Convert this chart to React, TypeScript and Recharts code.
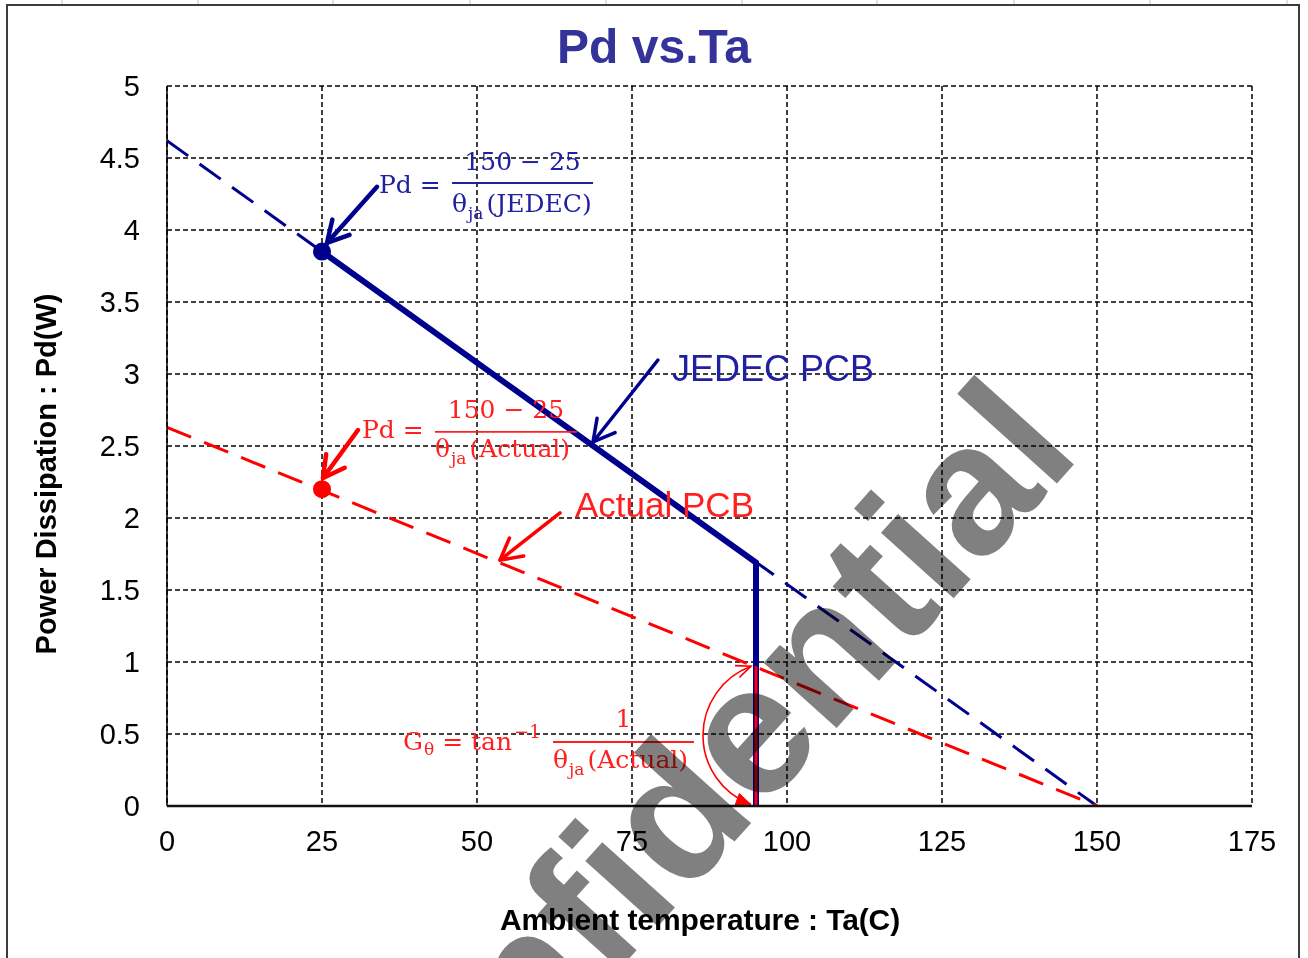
import React from "react";
import {
  ComposedChart,
  Line,
  Scatter,
  XAxis,
  YAxis,
  CartesianGrid,
  ReferenceLine,
  ReferenceDot,
} from "recharts";

// axis ticks
const xTicks = [0, 25, 50, 75, 100, 125, 150, 175];
const yTicks = [0, 0.5, 1, 1.5, 2, 2.5, 3, 3.5, 4, 4.5, 5];

// series (Ta in C, Pd in W)
const jedecDerating = [
  { x: 0, y: 4.62 },
  { x: 150, y: 0 },
];
const actualDerating = [
  { x: 0, y: 2.63 },
  { x: 150, y: 0 },
];
const jedecOperating = [
  { x: 25, y: 3.85 },
  { x: 95, y: 1.69 },
  { x: 95, y: 0 },
];
const actualLimit = [
  { x: 95, y: 0 },
  { x: 95, y: 0.97 },
];
const jedecPoint = [{ x: 25, y: 3.85 }];
const actualPoint = [{ x: 25, y: 2.2 }];

// annotation anchors (data coords)
const jedecFormulaAt = { x: 34.2, y: 4.257 };
const actualFormulaAt = { x: 31.45, y: 2.556 };
const slopeFormulaAt = { x: 38.06, y: 0.389 };
const jedecLabelAt = { x: 81.45, y: 2.951 };
const actualLabelAt = { x: 65.81, y: 2.007 };
const jedecFormulaArrow = [{ x: 33.87, y: 4.3 }, { x: 25.8, y: 3.91 }];
const actualFormulaArrow = [{ x: 30.81, y: 2.611 }, { x: 25.16, y: 2.278 }];
const jedecLabelArrow = [{ x: 79.19, y: 3.097 }, { x: 68.71, y: 2.528 }];
const actualLabelArrow = [{ x: 63.39, y: 2.035 }, { x: 53.71, y: 1.708 }];
const angleArc = [{ x: 95, y: 0.01 }, { x: 95, y: 0.97 }];

const W = 1308;
const H = 958;
const SANS = "'Liberation Sans', Arial, sans-serif";
const SERIF = "'DejaVu Serif', 'Liberation Serif', serif";
const NAVY = "#00008f";
const BLUE_TEXT = "#2020a2";
const RED = "#ff0000";
const RED_TEXT = "#ff1f1f";

const arrow =
  (color: string, width: number, head = 20) =>
  (p: any) => {
    const { x1, y1, x2, y2 } = p;
    const a = Math.atan2(y2 - y1, x2 - x1);
    const s = 0.5;
    const h1x = x2 - head * Math.cos(a - s);
    const h1y = y2 - head * Math.sin(a - s);
    const h2x = x2 - head * Math.cos(a + s);
    const h2y = y2 - head * Math.sin(a + s);
    return (
      <g stroke={color} strokeWidth={width} fill="none" strokeLinecap="round" strokeLinejoin="round">
        <line x1={x1} y1={y1} x2={x2} y2={y2} />
        <polyline points={`${h1x},${h1y} ${x2},${y2} ${h2x},${h2y}`} />
      </g>
    );
  };

// angle marker: short arc bulging left of the vertical limit line
const arcShape = (p: any) => {
  const { x1, y1, x2, y2 } = p;
  const bx = x1 - 5;
  const tx = x2 - 5;
  const bulge = 48;
  const half = Math.abs(y1 - y2) / 2;
  const r = (half * half + bulge * bulge) / (2 * bulge);
  const cx = tx + (r - bulge);
  const cy = (y1 + y2) / 2;
  const head = (ex: number, ey: number, dx: number, dy: number, fill: boolean) => {
    const a = Math.atan2(dy, dx);
    const L = 16;
    const pts = `${ex - L * Math.cos(a - 0.4)},${ey - L * Math.sin(a - 0.4)} ${ex},${ey} ${
      ex - L * Math.cos(a + 0.4)
    },${ey - L * Math.sin(a + 0.4)}`;
    return fill ? (
      <polygon points={pts} fill={RED} stroke={RED} strokeWidth={1} />
    ) : (
      <polyline points={pts} fill="none" stroke={RED} strokeWidth={1.6} />
    );
  };
  const rtx = tx - cx, rty = y2 - cy;
  const rbx = bx - cx, rby = y1 - cy;
  return (
    <g>
      <path
        d={`M ${tx} ${y2} A ${r} ${r} 0 0 0 ${bx} ${y1}`}
        fill="none"
        stroke={RED}
        strokeWidth={1.6}
      />
      {head(tx, y2, -rty, rtx, false)}
      {head(bx, y1, rby, -rbx, true)}
    </g>
  );
};

function Fraction(props: {
  x: number;
  y: number;
  color: string;
  lhs: React.ReactNode;
  barFrom: number;
  barTo: number;
  barDy: number;
  num: string;
  numDy: number;
  den: string;
  denDy: number;
}) {
  const { x, y, color } = props;
  return (
    <g fill={color} fontFamily={SERIF} fontSize={25}>
      <text x={x} y={y}>{props.lhs}</text>
      <line
        x1={x + props.barFrom}
        x2={x + props.barTo}
        y1={y + props.barDy}
        y2={y + props.barDy}
        stroke={color}
        strokeWidth={1.8}
      />
      <text x={x + (props.barFrom + props.barTo) / 2} y={y + props.numDy} textAnchor="middle">
        {props.num}
      </text>
      <text x={x + props.barFrom} y={y + props.denDy}>
        θ
        <tspan fontSize={17} dx={1} dy={7}>
          ja
        </tspan>
        <tspan dx={3} dy={-7}>
          {props.den}
        </tspan>
      </text>
    </g>
  );
}

const jedecFormula = (p: any) => (
  <Fraction
    x={p.cx}
    y={p.cy}
    color={BLUE_TEXT}
    lhs="Pd ="
    barFrom={73}
    barTo={214}
    barDy={-10}
    num="150 − 25"
    numDy={-23}
    den="(JEDEC)"
    denDy={19}
  />
);

const actualFormula = (p: any) => (
  <Fraction
    x={p.cx}
    y={p.cy}
    color={RED_TEXT}
    lhs="Pd ="
    barFrom={73}
    barTo={215}
    barDy={-6}
    num="150 − 25"
    numDy={-20}
    den="(Actual)"
    denDy={19}
  />
);

const slopeFormula = (p: any) => (
  <Fraction
    x={p.cx}
    y={p.cy}
    color={RED_TEXT}
    lhs={
      <>
        G
        <tspan fontSize={17} dx={1} dy={5}>
          θ
        </tspan>
        <tspan dy={-5}> = tan</tspan>
        <tspan fontSize={18} dx={2} dy={-12}>
          −1
        </tspan>
      </>
    }
    barFrom={150}
    barTo={291}
    barDy={-8}
    num="1"
    numDy={-23}
    den="(Actual)"
    denDy={18}
  />
);

const label = (text: string, color: string, size: number) => (p: any) => (
  <text x={p.cx} y={p.cy} fill={color} fontFamily={SANS} fontSize={size}>
    {text}
  </text>
);

const dot = (color: string) => (p: any) => <circle cx={p.cx} cy={p.cy} r={9} fill={color} />;

const sheetCols = [62, 198, 333, 470, 606, 742, 877, 1014, 1150, 1287];

export default function App() {
  return (
    <div style={{ position: "fixed", left: 0, top: 0, width: W, height: H, overflow: "hidden", background: "#fff" }}>
      <svg width={W} height={8} style={{ position: "absolute", left: 0, top: 0 }}>
        {sheetCols.map((c) => (
          <line key={c} x1={c} x2={c} y1={0} y2={5} stroke="#cfd7e3" strokeWidth={1.5} />
        ))}
      </svg>
      <div
        style={{
          position: "absolute",
          left: 6,
          top: 4,
          width: 1294,
          height: 1000,
          border: "2px solid #3c3c3c",
          boxSizing: "border-box",
        }}
      />
      <div style={{ position: "absolute", left: 0, top: 0 }}>
        <ComposedChart width={W} height={H} margin={{ top: 86, right: 56, bottom: 0, left: 0 }}>
          <CartesianGrid stroke="#000" strokeDasharray="5 3" strokeWidth={1.5} />
          <XAxis
            type="number"
            dataKey="x"
            domain={[0, 175]}
            ticks={xTicks}
            interval={0}
            height={152}
            tickLine={false}
            tickSize={0}
            tickMargin={24}
            axisLine={{ stroke: "#111", strokeWidth: 2.5 }}
            tick={{ fontSize: 29, fill: "#000", fontFamily: SANS }}
            allowDataOverflow
          />
          <YAxis
            type="number"
            dataKey="y"
            domain={[0, 5]}
            ticks={yTicks}
            interval={0}
            width={167}
            tickLine={false}
            tickSize={0}
            tickMargin={27}
            axisLine={{ stroke: "#000", strokeWidth: 1.5 }}
            tick={{ fontSize: 29, fill: "#000", fontFamily: SANS }}
            allowDataOverflow
          />
          <Line
            data={jedecDerating}
            dataKey="y"
            stroke={NAVY}
            strokeWidth={3}
            strokeDasharray="26 14"
            dot={false}
            activeDot={false}
            isAnimationActive={false}
          />
          <Line
            data={actualDerating}
            dataKey="y"
            stroke={RED}
            strokeWidth={3}
            strokeDasharray="26 14"
            dot={false}
            activeDot={false}
            isAnimationActive={false}
          />
          <Line
            data={jedecOperating}
            dataKey="y"
            stroke={NAVY}
            strokeWidth={6}
            dot={false}
            activeDot={false}
            isAnimationActive={false}
          />
          <Line
            data={actualLimit}
            dataKey="y"
            stroke={RED}
            strokeWidth={3}
            dot={false}
            activeDot={false}
            isAnimationActive={false}
          />
          <Scatter data={jedecPoint} dataKey="y" fill={NAVY} shape={dot(NAVY)} isAnimationActive={false} />
          <Scatter data={actualPoint} dataKey="y" fill={RED} shape={dot(RED)} isAnimationActive={false} />

          <ReferenceLine segment={jedecFormulaArrow} shape={arrow(NAVY, 4.5, 24)} />
          <ReferenceLine segment={actualFormulaArrow} shape={arrow(RED, 4.5, 24)} />
          <ReferenceLine segment={jedecLabelArrow} shape={arrow(NAVY, 3.5, 24)} />
          <ReferenceLine segment={actualLabelArrow} shape={arrow(RED, 3.5, 24)} />
          <ReferenceLine segment={angleArc} shape={arcShape} />

          <ReferenceDot x={jedecFormulaAt.x} y={jedecFormulaAt.y} r={0} shape={jedecFormula} />
          <ReferenceDot x={actualFormulaAt.x} y={actualFormulaAt.y} r={0} shape={actualFormula} />
          <ReferenceDot x={slopeFormulaAt.x} y={slopeFormulaAt.y} r={0} shape={slopeFormula} />
          <ReferenceDot x={jedecLabelAt.x} y={jedecLabelAt.y} r={0} shape={label("JEDEC PCB", BLUE_TEXT, 36)} />
          <ReferenceDot x={actualLabelAt.x} y={actualLabelAt.y} r={0} shape={label("Actual PCB", RED_TEXT, 35)} />
        </ComposedChart>
      </div>
      <svg width={W} height={H} style={{ position: "absolute", left: 0, top: 0, pointerEvents: "none" }}>
        <text x={654} y={63} textAnchor="middle" fontFamily={SANS} fontWeight="bold" fontSize={48} fill="#333399">
          Pd vs.Ta
        </text>
        <text
          x={46}
          y={474}
          transform="rotate(-90, 46, 474)"
          textAnchor="middle"
          dominantBaseline="central"
          fontFamily={SANS}
          fontWeight="bold"
          fontSize={29}
          fill="#000"
        >
          Power Dissipation : Pd(W)
        </text>
        <text
          x={700}
          y={930}
          textAnchor="middle"
          fontFamily={SANS}
          fontWeight="bold"
          fontSize={30}
          letterSpacing={-0.1}
          fill="#000"
        >
          Ambient temperature : Ta(C)
        </text>
      </svg>
      <svg
        width={W}
        height={H}
        style={{ position: "absolute", left: 0, top: 0, pointerEvents: "none", mixBlendMode: "multiply" }}
      >
        <text
          x={725}
          y={852}
          transform="rotate(-48, 725, 852)"
          textAnchor="middle"
          fontFamily={SANS}
          fontWeight="bold"
          fontSize={185}
          fill="#808080"
        >
          Confidential
        </text>
      </svg>
    </div>
  );
}
